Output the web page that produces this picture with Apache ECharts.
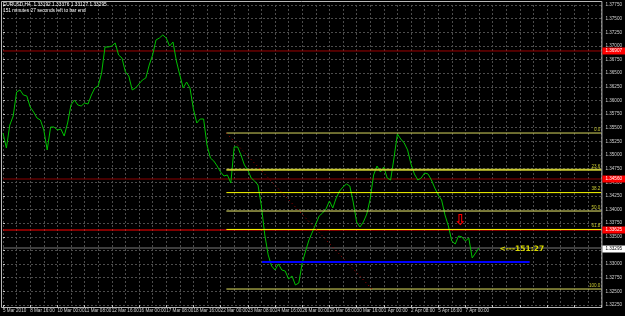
<!DOCTYPE html>
<html><head><meta charset="utf-8">
<script src="https://cdn.jsdelivr.net/npm/echarts/dist/echarts.min.js"></script>
<style>html,body{margin:0;padding:0;background:#000;overflow:hidden}#c{width:625px;height:316px}</style>
</head><body><div id="c"></div><script>
// ---- data ----
const closes = [1.35403,1.35128,1.35550,1.35715,1.36155,1.36192,1.36100,1.36082,1.35880,1.35788,
1.35678,1.35642,1.35458,1.35092,1.35513,1.35513,1.35458,1.35477,1.35348,1.35587,
1.35917,1.36008,1.35917,1.35898,1.35953,1.35935,1.36100,1.36228,1.36265,1.36503,
1.36980,1.36980,1.36998,1.37053,1.36833,1.36778,1.36522,1.36448,1.36192,1.36228,
1.36302,1.36375,1.36412,1.36650,1.36833,1.37108,1.37145,1.37200,1.37145,1.36998,
1.37072,1.36723,1.36467,1.36228,1.36338,1.36228,1.35843,1.35587,1.35660,1.35660,
1.35183,1.34945,1.34890,1.34798,1.34688,1.34615,1.34633,1.34487,1.35147,1.35147,
1.35000,1.34817,1.34725,1.34578,1.34523,1.34450,1.34065,1.33533,1.33167,1.32965,
1.32892,1.33002,1.32892,1.32873,1.32727,1.32782,1.32617,1.32653,1.33020,1.33240,
1.33442,1.33588,1.33735,1.33882,1.33937,1.34010,1.34157,1.34028,1.34212,1.34340,
1.34413,1.34468,1.34432,1.34138,1.33772,1.33680,1.33772,1.33918,1.34193,1.34633,
1.34798,1.34688,1.34780,1.34578,1.34542,1.34945,1.35385,1.35293,1.35220,1.35092,
1.34835,1.34652,1.34542,1.34578,1.34670,1.34652,1.34542,1.34395,1.34267,1.34175,
1.33900,1.33698,1.33423,1.33368,1.33515,1.33497,1.33423,1.33478,1.33112,1.33203,
1.33295];
const xTickLabels = ['5 Mar 2010','8 Mar 16:00','10 Mar 00:00','11 Mar 08:00','12 Mar 16:00','16 Mar 00:00',
'17 Mar 08:00','18 Mar 16:00','22 Mar 00:00','23 Mar 08:00','24 Mar 16:00','26 Mar 00:00','29 Mar 08:00',
'30 Mar 16:00','1 Apr 00:00','2 Apr 08:00','5 Apr 16:00','7 Apr 00:00'];
const barsPerLabel = 8;
const totalSlots = 177;          // visible bar slots incl. empty right shift
const yMin = 1.3225, yMax = 1.3775, yStep = 0.0025;
const fibRatios = [0, 23.6, 38.2, 50.0, 61.8, 100.0];
const fibLabels = ['0.0','23.6','38.2','50.0','61.8','100.0'];
const fibHigh = 1.35403, fibLow = 1.32543;
const fibStartIdx = 65.7, fibEndIdx = 108.5;
const redLevels = [1.36907, 1.34560, 1.33625];
const blueLevel = 1.33038, blueStartIdx = 76.2, blueEndIdx = 154.9;
const arrowIdx = 134.6, arrowPrice = 1.33920;
const headerLines = ['EURUSD,H4  1.33192 1.33376 1.33127 1.33295','151 minutes 27 seconds left to bar end'];
const countdownText = '<---151:27';

// ---- chart ----
const lastIdx = closes.length - 1;
const bid = closes[lastIdx];
const cats = Array.from({length: totalSlots}, (_, i) => 'b' + i);
const fibColors = ['#d8d860','#c8c830','#ffff00','#f0f070','#ffff00','#e0e060'];
const fibWidths = [1,2,1,1,1,1];
const redColors = ['#a00000','#8c0000','#ff0000'];
const chart = echarts.init(document.getElementById('c'), null, {renderer:'canvas'});
const hl = (p, x0, x1) => [[x0, p],[x1, p]];
const series = [];
series.push({type:'line', xAxisIndex:0, yAxisIndex:0, data: closes, symbol:'none', z:5,
  lineStyle:{color:'#00c000', width:1}, animation:false});
series.push({type:'line', xAxisIndex:1, data: hl(bid, 0, totalSlots-1), symbol:'none', z:3,
  lineStyle:{color:'#7a7a7a', width:1}, animation:false});
redLevels.forEach((p,k)=>series.push({type:'line', xAxisIndex:1, data: hl(p,0,totalSlots-1), symbol:'none', z:4,
  lineStyle:{color:redColors[k], width:1}, animation:false}));
const fibPrices = fibRatios.map(r => fibHigh - (fibHigh - fibLow) * r / 100);
fibPrices.forEach((p,k)=>series.push({type:'line', xAxisIndex:1, data: hl(p, fibStartIdx, totalSlots-1), symbol:'none', z:6,
  lineStyle:{color:fibColors[k], width:fibWidths[k]}, animation:false}));
series.push({type:'line', xAxisIndex:1, data:[[fibStartIdx,fibHigh],[fibEndIdx,fibLow]], symbol:'none', z:6,
  lineStyle:{color:'#b00000', width:1, type:[1,3]}, animation:false});
series.push({type:'line', xAxisIndex:1, data: hl(blueLevel, blueStartIdx, blueEndIdx), symbol:'none', z:6,
  lineStyle:{color:'#0000ff', width:2}, animation:false});

const axisTxt = {color:'#d0d0d0', fontSize:4.6, fontFamily:'Liberation Sans'};
chart.setOption({
  backgroundColor:'#000',
  animation:false,
  grid:{left:1.6, top:5, width:603.7, height:300},
  xAxis:[{type:'category', data:cats, boundaryGap:false,
    axisLine:{show:false},
    axisTick:{show:true, interval:barsPerLabel-1, length:2, lineStyle:{color:'#c0c0c0'}},
    axisLabel:Object.assign({interval:barsPerLabel-1, align:'left', margin:3,
      formatter:(v,i)=> (i % barsPerLabel===0 && xTickLabels[i/barsPerLabel]) ? xTickLabels[i/barsPerLabel] : ''}, axisTxt),
    splitLine:{show:true, interval:3, lineStyle:{color:'#4c4c4c', type:[2,2], width:1}}},
    {type:'value', min:0, max:totalSlots-1, show:false}],
  yAxis:[{type:'value', position:'right', min:yMin, max:yMax, interval:yStep,
    axisLine:{show:false},
    axisTick:{show:true, length:2, lineStyle:{color:'#c0c0c0'}},
    axisLabel:Object.assign({margin:4, formatter:v=>v.toFixed(5)}, axisTxt),
    splitLine:{show:true, lineStyle:{color:'#4c4c4c', type:[2,2], width:1}}}],
  series
});

// overlay texts through the chart's own scales
const px = (i,p) => chart.convertToPixel({seriesIndex:1}, [i,p]);
const py = p => chart.convertToPixel({yAxisIndex:0}, p);
const gfx = [];
const fr = px(totalSlots-1, yMin);
gfx.push({type:'rect', shape:{x:1.5, y:1.5, width:fr[0]-1, height:fr[1]+1}, style:{fill:null, stroke:'#b8b8b8', lineWidth:1}, silent:true, z:50});
fibPrices.forEach((p,k)=>{
  const y = py(p);
  gfx.push({type:'text', x:fr[0]-1, y:y-1, style:{text:fibLabels[k], fill:'#c8c830', font:'4.6px "Liberation Sans"', align:'right', verticalAlign:'bottom'}, z:60});
});
redLevels.forEach(p=>{
  const y = py(p);
  gfx.push({type:'rect', shape:{x:fr[0]+1, y:y-3.5, width:625-fr[0]-1, height:7}, style:{fill:'#ff0000'}, z:60});
  gfx.push({type:'text', x:fr[0]+4, y:y, style:{text:p.toFixed(5), fill:'#ffffff', font:'4.6px "Liberation Sans"', verticalAlign:'middle'}, z:61});
});
{
  const y = py(bid);
  gfx.push({type:'rect', shape:{x:fr[0]+1, y:y-2.5, width:625-fr[0]-1, height:7}, style:{fill:'#ffffff'}, z:60});
  gfx.push({type:'text', x:fr[0]+4, y:y+1, style:{text:bid.toFixed(5), fill:'#000000', font:'4.6px "Liberation Sans"', verticalAlign:'middle'}, z:61});
  const c = px(lastIdx + 6, bid);
  gfx.push({type:'text', x:c[0], y:c[1]+1, style:{text:countdownText, fill:'#d8d800', font:'bold 7.5px "DejaVu Sans"', verticalAlign:'middle'}, z:61});
}
{
  const a = px(arrowIdx, arrowPrice);
  gfx.push({type:'text', x:a[0], y:a[1], style:{text:'\u21E9', fill:'#ff0000', font:'bold 15px "DejaVu Sans"', align:'center', verticalAlign:'top'}, z:61});
}
headerLines.forEach((t,k)=>gfx.push({type:'text', x:3, y:2+k*6.5, style:{text:t, fill:'#ffffff', font:'4.8px "Liberation Sans"', verticalAlign:'top'}, z:61}));
chart.setOption({graphic:gfx});
</script></body></html>
